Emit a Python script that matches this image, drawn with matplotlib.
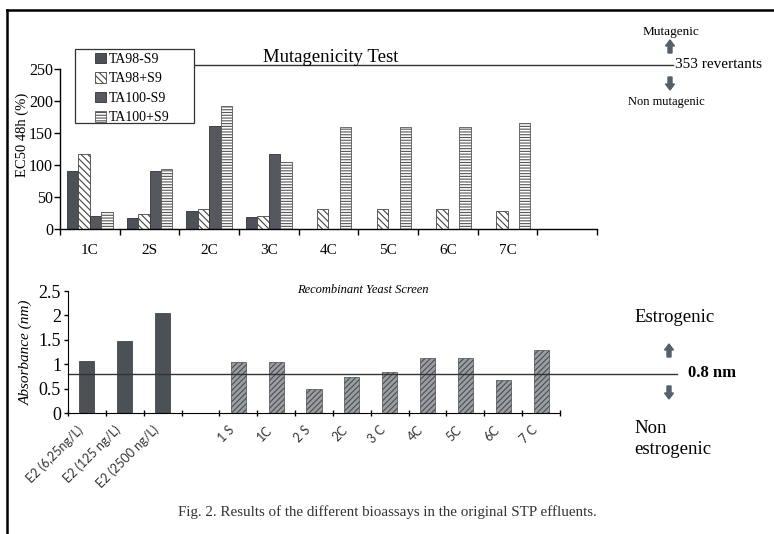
import numpy as np
import matplotlib.pyplot as plt
from matplotlib.patches import FancyArrow, Rectangle
from matplotlib.lines import Line2D
from matplotlib.transforms import ScaledTranslation

plt.rcParams['font.family'] = ['Liberation Serif', 'DejaVu Serif']
plt.rcParams['hatch.linewidth'] = 0.8

# Ames mutagenicity test (EC50 48h, %)
sites = ['1C', '2S', '2C', '3C', '4C', '5C', '6C', '7C']
ta98_minus = [90, 17, 28, 19, 0, 0, 0, 0]
ta98_plus = [117, 23, 32, 21, 31, 31, 31, 28]
ta100_minus = [20, 90, 161, 117, 0, 0, 0, 0]
ta100_plus = [27, 93, 192, 105, 160, 160, 160, 166]
revertant_line = 256

# Recombinant yeast screen (absorbance)
yeast_labels = ['E2 (6,25ng/L)', 'E2 (125 ng/L)', 'E2 (2500 ng/L)', '',
                '1 S', '1C', '2 S', '2C', '3 C', '4C', '5C', '6C', '7 C']
e2_values = [1.07, 1.48, 2.04]
sample_values = [1.05, 1.05, 0.50, 0.73, 0.85, 1.12, 1.12, 0.68, 1.30]
threshold = 0.8

W, H = 774, 534
fig = plt.figure(figsize=(W / 100, H / 100), dpi=100)


def box(x0, y0, x1, y1):
    # pixel box (top-left origin) -> figure fraction rect
    return [x0 / W, 1 - y1 / H, (x1 - x0) / W, (y1 - y0) / H]


def arrow(xp, yp, dy):
    fig.add_artist(FancyArrow(xp / W, 1 - yp / H, 0, dy / H, width=4 / W,
                              head_width=9 / W, head_length=6 / H,
                              length_includes_head=True, color='#55606a',
                              transform=fig.transFigure))


# page frame
fig.add_artist(Line2D([7 / W, 1], [1 - 10 / H, 1 - 10 / H], color='black', lw=1.8))
fig.add_artist(Line2D([7 / W, 7 / W], [0, 1 - 10 / H], color='black', lw=1.8))

dark = '#4c5157'
grey = '#55595f'

# ---- top panel ----
ax1 = fig.add_axes(box(60, 69, 597, 229))
x = np.arange(len(sites))
bw = 0.19
offs = [-1.5 * bw, -0.5 * bw, 0.5 * bw, 1.5 * bw]
b1 = ax1.bar(x + offs[0], ta98_minus, bw, color=dark, edgecolor='#333333', lw=0.6)
b2 = ax1.bar(x + offs[1], ta98_plus, bw, color='white', edgecolor='#444444', hatch='\\\\\\\\\\', lw=0.6)
b3 = ax1.bar(x + offs[2], ta100_minus, bw, color=grey, edgecolor='#333333', lw=0.6)
b4 = ax1.bar(x + offs[3], ta100_plus, bw, color='white', edgecolor='#555555', hatch='------', lw=0.6)
for bars, vals in [(b1, ta98_minus), (b3, ta100_minus)]:
    for b, v in zip(bars, vals):
        if v == 0:
            b.set_visible(False)

ax1.set_xlim(-0.5, 8.5)
ax1.set_ylim(0, 250)
ax1.set_yticks([0, 50, 100, 150, 200, 250])
ax1.set_xticks(np.arange(-0.5, 9.0, 1.0))
ax1.set_xticklabels([])
ax1.set_xticks(x, labels=sites, minor=True)
ax1.tick_params(axis='x', which='minor', length=0, pad=11, labelsize=11)
ax1.tick_params(axis='x', which='major', direction='out', length=4, width=1)
ax1.tick_params(axis='y', direction='out', length=4, width=1, labelsize=11.5, pad=1)
for s in ['top', 'right']:
    ax1.spines[s].set_visible(False)
for s in ['left', 'bottom']:
    ax1.spines[s].set_linewidth(1.0)
ax1.set_ylabel('EC50 48h (%)', fontsize=10.5)
ax1.yaxis.set_label_coords(-0.057, 0.59)

# legend inside a wider hand-drawn box
ax1.add_patch(Rectangle((75 / W, 1 - 123 / H), 119 / W, 74 / H, facecolor='white',
                        edgecolor='#333333', lw=0.9, transform=fig.transFigure,
                        clip_on=False, zorder=4))
leg = ax1.legend([b1, b2, b3, b4], ['TA98-S9', 'TA98+S9', 'TA100-S9', 'TA100+S9'],
                 loc='upper left', bbox_to_anchor=(92 / W, 1 - 50 / H),
                 bbox_transform=fig.transFigure,
                 fontsize=10, frameon=False,
                 handlelength=0.8, handleheight=0.8, handletextpad=0.2,
                 labelspacing=0.45, borderpad=0.2, borderaxespad=0)
leg.set_zorder(5)

ax1.plot([1.75, 9.77], [revertant_line, revertant_line], color='#333333', lw=1.0,
         clip_on=False)
ax1.text(4.03, 268, 'Mutagenicity Test', fontsize=13.5, ha='center', va='center')
fig.text(671 / W, 1 - 32 / H, 'Mutagenic', fontsize=9.5, ha='center', va='center')
fig.text(675 / W, 1 - 64 / H, '353 revertants', fontsize=11, ha='left', va='center')
fig.text(666 / W, 1 - 102 / H, 'Non mutagenic', fontsize=9, ha='center', va='center')
arrow(670, 53, 13)
arrow(670, 77, -13)

# ---- bottom panel ----
ax2 = fig.add_axes(box(68, 291, 560, 413))
xe = np.arange(len(e2_values))
xs = np.arange(len(sample_values)) + 4
ax2.bar(xe, e2_values, 0.4, color=dark, edgecolor='#333333', lw=0.5)
ax2.bar(xs, sample_values, 0.4, color='#9a9da1', edgecolor='#4a4d52',
        hatch='//////', lw=0.5)
ax2.set_xlim(-0.5, 12.5)
ax2.set_ylim(0, 2.5)
ax2.set_yticks([0, 0.5, 1, 1.5, 2, 2.5], labels=['0', '0.5', '1', '1.5', '2', '2.5'])
ax2.set_xticks(np.arange(-0.5, 13.0, 1.0))
ax2.set_xticklabels([])
ax2.tick_params(axis='x', which='major', direction='inout', length=4, width=1)
ax2.tick_params(axis='y', direction='out', length=3, width=1, labelsize=13, pad=2)
for s in ['top', 'right']:
    ax2.spines[s].set_visible(False)

# slanted sample labels hanging just left of each bar
shift = ScaledTranslation(-6 / 100, -15 / 100, fig.dpi_scale_trans)
for i, lab in enumerate(yeast_labels):
    ax2.text(i, 0, lab, transform=ax2.get_xaxis_transform() + shift,
             rotation=45, rotation_mode='anchor', ha='right', va='center',
             fontsize=9, family=['Lato', 'DejaVu Sans'], color='#333333')

ax2.set_ylabel('Absorbance (nm)', fontsize=11, style='italic', labelpad=4)
ax2.plot([-0.5, 15.6], [threshold, threshold], color='#333333', lw=1.0, clip_on=False)
ax2.text(7.29, 2.52, 'Recombinant Yeast Screen', fontsize=9, style='italic',
         ha='center', va='center')

fig.text(634 / W, 1 - 318 / H, 'Estrogenic', fontsize=13.5, ha='left', va='center')
fig.text(688 / W, 1 - 373 / H, '0.8 nm', fontsize=12, fontweight='bold', ha='left', va='center')
fig.text(634 / W, 1 - 439 / H, 'Non\nestrogenic', fontsize=13.5, ha='left', va='center',
         linespacing=1.3)
arrow(669, 357, 13)
arrow(669, 386, -13)

fig.text(387 / W, 1 - 512 / H,
         'Fig. 2. Results of the different bioassays in the original STP effluents.',
         fontsize=10.8, ha='center', va='center', color='#333333')

fig.savefig('out.png', dpi=100)
